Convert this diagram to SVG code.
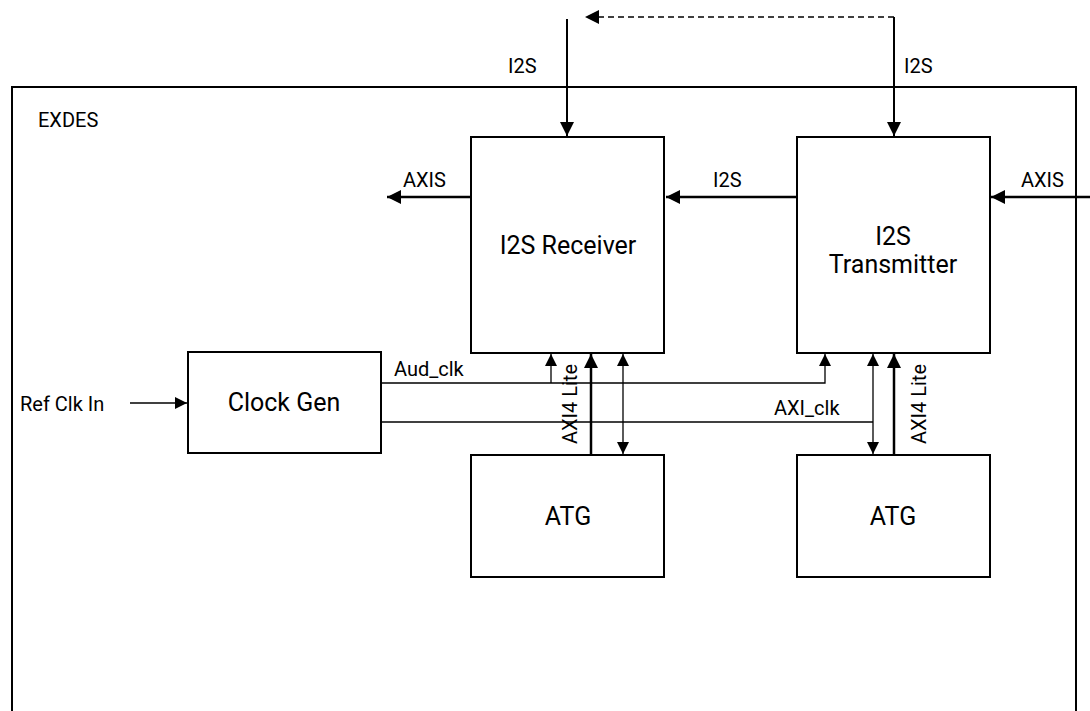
<svg xmlns="http://www.w3.org/2000/svg" width="1090" height="711" viewBox="0 0 1090 711">
<defs>
<style>
.box{fill:#fff;stroke:#000;stroke-width:2}
.lbl{font-family:Roboto,"Liberation Sans",sans-serif;font-size:25px;fill:#000;text-anchor:middle}
.sm{font-family:Roboto,"Liberation Sans",sans-serif;font-size:20px;fill:#000}
.thin{stroke:#000;stroke-width:1.3;fill:none}
.thick{stroke:#000;stroke-width:2.5;fill:none}
</style>
<marker id="ah" viewBox="0 0 10 10" refX="10" refY="5" markerWidth="17" markerHeight="14" markerUnits="userSpaceOnUse" orient="auto-start-reverse"><path d="M0,0L10,5L0,10z" fill="#000"/></marker>
<marker id="ahs" viewBox="0 0 10 10" refX="10" refY="5" markerWidth="14" markerHeight="12" markerUnits="userSpaceOnUse" orient="auto-start-reverse"><path d="M0,0L10,5L0,10z" fill="#000"/></marker>
</defs>
<rect width="1090" height="711" fill="#fff"/>
<g id="exdes">
<path d="M12,712V87H1076V712" fill="none" stroke="#000" stroke-width="2"/>
<text class="sm" x="38" y="127">EXDES</text>
</g>
<g id="receiver"><rect class="box" x="471" y="137" width="193" height="216"/><text class="lbl" x="568" y="254">I2S Receiver</text></g>
<g id="transmitter"><rect class="box" x="797" y="137" width="193" height="216"/><text class="lbl" x="893" y="245">I2S</text><text class="lbl" x="893" y="273">Transmitter</text></g>
<g id="clockgen"><rect class="box" x="188" y="352" width="193" height="101"/><text class="lbl" x="284" y="411">Clock Gen</text></g>
<g id="atg1"><rect class="box" x="471" y="455" width="193" height="122"/><text class="lbl" x="568" y="525">ATG</text></g>
<g id="atg2"><rect class="box" x="797" y="455" width="193" height="122"/><text class="lbl" x="893" y="525">ATG</text></g>
<g id="connectors">
<path class="thin" d="M894,17H585" stroke-dasharray="6,4" marker-end="url(#ah)" style="stroke-width:1.5"/>
<path class="thin" d="M894,17V136" marker-end="url(#ah)" style="stroke-width:2"/>
<path class="thin" d="M567,19V136" marker-end="url(#ah)" style="stroke-width:2"/>
<text class="sm" x="508" y="73">I2S</text>
<text class="sm" x="904" y="73">I2S</text>
<path class="thick" d="M470,197H387" marker-end="url(#ah)"/>
<text class="sm" x="403" y="187">AXIS</text>
<path class="thick" d="M796,197H666" marker-end="url(#ah)"/>
<text class="sm" x="713" y="187">I2S</text>
<path class="thick" d="M1090,197H991" marker-end="url(#ah)"/>
<text class="sm" x="1021" y="187">AXIS</text>
<path class="thin" d="M130,403H187" marker-end="url(#ahs)"/>
<text class="sm" x="20" y="411">Ref Clk In</text>
<path class="thin" d="M381,383H825V354" marker-end="url(#ahs)"/>
<path class="thin" d="M551,383V354" marker-end="url(#ahs)"/>
<text class="sm" x="394" y="376">Aud_clk</text>
<path class="thin" d="M381,422H873"/>
<text class="sm" x="774" y="415">AXI_clk</text>
<path class="thin" d="M873,354V454" marker-start="url(#ahs)" marker-end="url(#ahs)"/>
<path class="thin" d="M623,354V454" marker-start="url(#ahs)" marker-end="url(#ahs)"/>
<path class="thick" d="M591,455V354" marker-end="url(#ah)"/>
<path class="thick" d="M894,455V354" marker-end="url(#ah)"/>
<text class="sm" transform="translate(577,404) rotate(-90)" text-anchor="middle">AXI4 Lite</text>
<text class="sm" transform="translate(926,404) rotate(-90)" text-anchor="middle">AXI4 Lite</text>
</g>
</svg>
